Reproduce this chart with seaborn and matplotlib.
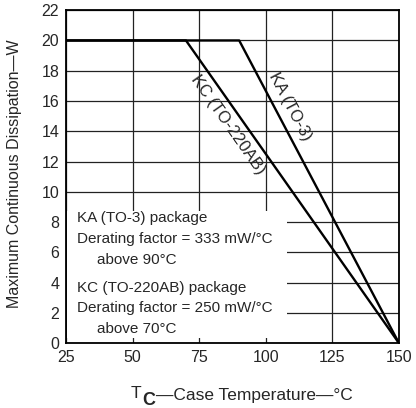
import matplotlib
matplotlib.use("Agg")
import matplotlib.pyplot as plt
import matplotlib.patches as mpatches
import seaborn as sns
import pandas as pd

# derating curves
ka_temp = [25, 90, 150]
ka_power = [20, 20, 0]
kc_temp = [25, 70, 150]
kc_power = [20, 20, 0]

x_ticks = [25, 50, 75, 100, 125, 150]
y_ticks = [0, 2, 4, 6, 8, 10, 12, 14, 16, 18, 20, 22]

note_lines = [
    "KA (TO-3) package",
    "Derating factor = 333 mW/°C",
    "above 90°C",
    "KC (TO-220AB) package",
    "Derating factor = 250 mW/°C",
    "above 70°C",
]

sns.set_style("white")
plt.rcParams["font.family"] = ["Liberation Sans", "DejaVu Sans"]

df = pd.concat([
    pd.DataFrame({"temp": ka_temp, "power": ka_power, "pkg": "KA"}),
    pd.DataFrame({"temp": kc_temp, "power": kc_power, "pkg": "KC"}),
])

fig = plt.figure(figsize=(4.16, 4.08), dpi=100)
ax = fig.add_axes([0.159, 0.159, 0.800, 0.816])

sns.lineplot(data=df, x="temp", y="power", units="pkg", estimator=None,
             color="black", linewidth=1.7, ax=ax, zorder=4, sort=False)

ax.set_xlim(25, 150)
ax.set_ylim(0, 22)
ax.set_xticks(x_ticks)
ax.set_yticks(y_ticks)
ax.grid(True, color="#222222", linewidth=0.9)
ax.set_axisbelow(True)
for s in ax.spines.values():
    s.set_color("black")
    s.set_linewidth(1.3)
ax.tick_params(length=0, labelsize=11.5, pad=5)

# white box behind the notes
ax.add_patch(mpatches.Rectangle((25.5, 0.35), 82.5, 8.4, facecolor="white",
                                edgecolor="none", zorder=2))
note_y = [8.26, 6.87, 5.48, 3.63, 2.31, 0.92]
note_x = [29, 29, 36.5, 29, 29, 36.5]
for txt, nx, ny in zip(note_lines, note_x, note_y):
    ax.text(nx, ny, txt, fontsize=11, va="center", ha="left", zorder=3)

ax.text(109.1, 15.65, "KA (TO-3)", rotation=-62.3, rotation_mode="anchor",
        ha="center", va="center", fontsize=12, zorder=5)
ax.text(85.8, 14.4, "KC (TO-220AB)", rotation=-54.9, rotation_mode="anchor",
        ha="center", va="center", fontsize=12, zorder=5)

# x label built from pieces so the subscript C can be big and bold
ax.set_xlabel("")
t1 = fig.text(131 / 416, 1 - 394 / 408, "T", fontsize=12.5, ha="left", va="center")
t2 = ax.annotate("C", xy=(1, 0.5), xycoords=t1, xytext=(0.3, -5),
                 textcoords="offset points", fontsize=13, fontweight="bold",
                 ha="left", va="center", annotation_clip=False)
ax.annotate("—Case Temperature—°C", xy=(1, 0.5), xycoords=t2, xytext=(1, 4),
            textcoords="offset points", fontsize=12.5, ha="left", va="center",
            annotation_clip=False)

ax.set_ylabel("Maximum Continuous Dissipation—W", fontsize=11.5)
ax.yaxis.set_label_coords(-0.132, 0.51)

fig.savefig("out.png", dpi=100)
